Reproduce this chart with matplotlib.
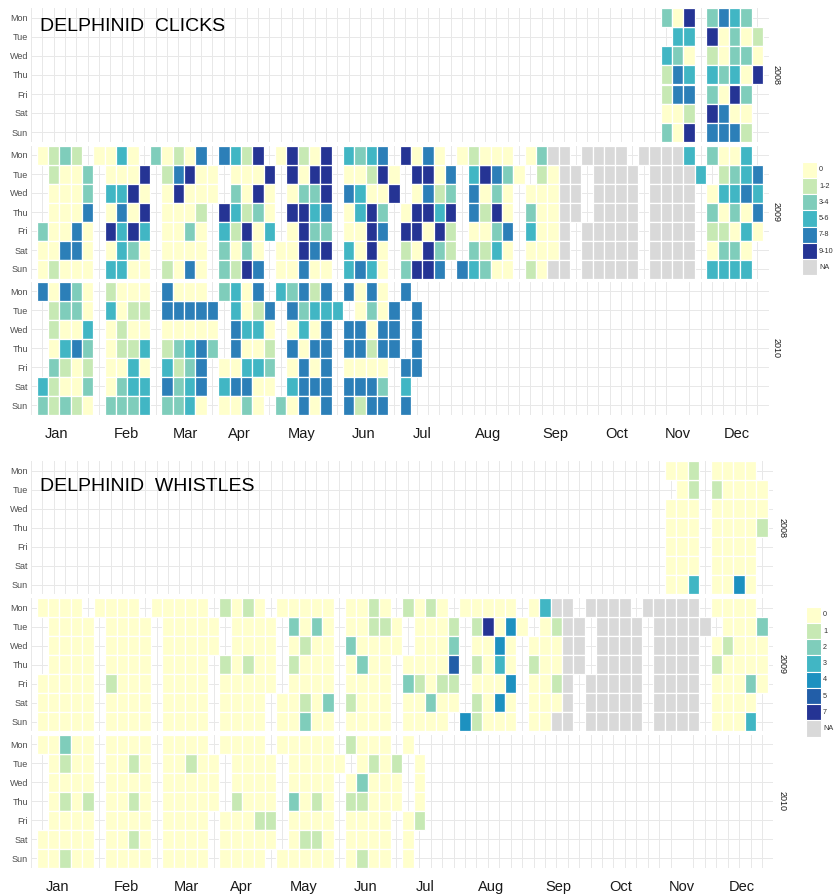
import datetime as dt
import matplotlib
matplotlib.use('Agg')
import matplotlib.pyplot as plt
from matplotlib.patches import Rectangle

plt.rcParams['font.family'] = ['Liberation Sans', 'DejaVu Sans']

# day values per month, one token per displayed row (Mon..Sun label order),
# each token lists the days of that row in date order; 'n' = NA
clicks_2008 = {
    "Nov": "205 33 320 143 144 001 205",
    "Dec": "2432 50201 10220 32305 2052 5400 4441",
}
clicks_2009 = {
    "Jan": "0121 1002 0002 0004 20040 00440 01000",
    "Feb": "0030 0005 3350 0405 5353 0320 3300",
    "Mar": "20104 14500 05000 0001 0020 0000 1040",
    "Apr": "4315 0005 2050 53120 31503 2020 2154",
    "May": "05105 5055 0225 5534 0522 00545 00400",
    "Jun": "3234 00150 43005 0352 0054 3050 3430",
    "Jul": "5040 5504 0412 05535 55051 10521 2554",
    "Aug": "01000 35420 4020 4150 0024 2130 43200",
    "Sep": "02nn 10nn 000nn 200nn 300n 000n 10nn",
    "Oct": "nnnn nnnn nnnn nnnn nnnnn nnnnn nnnnn",
    "Nov": "nnnn3 nnnn3 nnnn nnnn nnnn nnnn nnnn",
    "Dec": "2003 1234 03343 20204 11030 0220 3333",
}
clicks_2010 = {
    "Jan": "40420 1220 1003 0342 2101 31002 21210",
    "Feb": "1000 3011 0100 0113 0030 0233 2223",
    "Mar": "4000 44444 00000 12342 3124 4234 2230",
    "Apr": "2304 3014 4330 4001 00332 34400 0020",
    "May": "32414 42333 0304 4044 0404 3444 20404",
    "Jun": "4040 0204 44044 44144 0000 4442 4144",
    "Jul": "4 4 4 4 44 3 4",
}

whistles_2008 = {
    "Nov": "001 01 000 000 000 000 003",
    "Dec": "0000 10000 00000 00001 0000 0000 0040",
}
whistles_2009 = {
    "Jan": "0000 0000 0000 0000 00000 00000 00000",
    "Feb": "0000 0000 0000 0000 1000 0000 0000",
    "Mar": "00000 00000 00000 0000 0000 0000 0000",
    "Apr": "1010 0000 0000 10100 00000 0000 0000",
    "May": "00000 2020 0100 1000 0000 00102 00200",
    "Jun": "0010 00110 20000 0200 0000 1000 0000",
    "Jul": "1010 0001 0002 00005 21011 00200 0000",
    "Aug": "00000 16040 0040 1030 0004 1040 41000",
    "Sep": "03nn 01nn 000nn 100nn 001n 000n 00nn",
    "Oct": "nnnn nnnn nnnn nnnn nnnnn nnnnn nnnnn",
    "Nov": "nnnnn nnnnn nnnn nnnn nnnn nnnn nnnn",
    "Dec": "0000 0002 01000 10000 00020 0000 0003",
}
whistles_2010 = {
    "Jan": "00200 0100 0000 0101 0000 00000 00100",
    "Feb": "0000 0010 0000 0010 0000 0010 0000",
    "Mar": "0000 00100 00000 00000 0000 0000 0000",
    "Apr": "0000 0000 0000 1000 00011 00000 0000",
    "May": "00000 00000 0000 2010 0000 0110 00000",
    "Jun": "1000 0101 02000 11000 0000 0000 0100",
    "Jul": "0 0 0 0 01 0 0",
}

first_day = dt.date(2008, 11, 11)
last_day = dt.date(2010, 7, 8)

clicks_labels = ["0", "1-2", "3-4", "5-6", "7-8", "9-10", "NA"]
clicks_colors = ['#ffffcc', '#c7e9b4', '#7fcdbb', '#41b6c4', '#2c7fb8', '#253494']
whistles_labels = ["0", "1", "2", "3", "4", "5", "7", "NA"]
whistles_colors = ['#ffffcc', '#c7e9b4', '#7fcdbb', '#41b6c4', '#1d91c0', '#225ea8', '#253494']
na_color = '#d9d9d9'

months = ["Jan", "Feb", "Mar", "Apr", "May", "Jun", "Jul", "Aug", "Sep", "Oct", "Nov", "Dec"]
month_label_x = [2.3, 8.4, 13.6, 18.4, 23.85, 29.3, 34.5, 40.3, 46.2, 51.6, 57.0, 62.2]
days = ["Mon", "Tue", "Wed", "Thu", "Fri", "Sat", "Sun"]

W, H = 835, 894
fig = plt.figure(figsize=(W / 100, H / 100), dpi=100)


def px_axes(left, top, right, bottom):
    return fig.add_axes([left / W, 1 - bottom / H, (right - left) / W, (bottom - top) / H])


def draw_facet(ax, year, data, colors, bottom_row):
    xs, ys, cs = [], [], []
    for mname, tokens in data.items():
        m = months.index(mname) + 1
        rows = tokens.split()
        idx = [0] * 7
        d = dt.date(year, m, 1)
        while d.month == m:
            if first_day <= d <= last_day:
                r = (d.weekday() + 1) % 7
                code = rows[r][idx[r]]
                idx[r] += 1
                xs.append(int(d.strftime('%W')) + m)
                ys.append(r)
                cs.append(na_color if code == 'n' else colors[int(code)])
            d += dt.timedelta(days=1)
    ax.bar(xs, 1.0, width=1.0, bottom=[y - 0.5 for y in ys], color=cs,
           edgecolor='white', linewidth=0.9, zorder=2)
    ax.set_xlim(0.5, 64.5)
    ax.set_ylim(6.5, -0.5)
    ax.set_yticks(range(7))
    ax.set_yticklabels(days, fontsize=6.5, color='#4d4d4d')
    ax.set_xticks(range(0, 66), minor=True)
    if bottom_row:
        ax.set_xticks(month_label_x)
        ax.set_xticklabels(months, fontsize=10.5, color='#1a1a1a')
    else:
        ax.set_xticks([])
    ax.tick_params(which='both', length=0)
    ax.tick_params(axis='x', pad=9)
    ax.tick_params(axis='y', pad=2)
    ax.grid(which='minor', axis='x', color='#e8e8e8', lw=0.7, zorder=0)
    ax.grid(which='major', axis='y', color='#e8e8e8', lw=0.7, zorder=0)
    ax.set_axisbelow(True)
    for s in ax.spines.values():
        s.set_visible(False)


def draw_panel(title, title_base, facets, colors, labels, right, strip_x, key_left, key_top):
    for (top, year, data), last in zip(facets, [False, False, True]):
        ax = px_axes(30.9, top, right, top + 133)
        draw_facet(ax, year, data, colors, last)
        fig.text(strip_x / W, 1 - (top + 66.5) / H, str(year), rotation=270,
                 ha='center', va='center', fontsize=6.5, color='#1a1a1a')
    fig.text(40 / W, 1 - title_base / H, title, fontsize=14, va='baseline')
    # legend
    allc = colors + [na_color]
    for i, (c, lab) in enumerate(zip(allc, labels)):
        y0 = key_top + i * 16.25
        fig.add_artist(Rectangle((key_left / W, 1 - (y0 + 16.25) / H), 15.5 / W, 16.25 / H,
                                 transform=fig.transFigure, fc=c, ec='white', lw=0.8))
        fig.text((key_left + 17.5) / W, 1 - (y0 + 8.1) / H, lab, fontsize=5.2,
                 va='center', ha='left', color='#333333')


draw_panel("DELPHINID  CLICKS", 31,
           [(8.5, 2008, clicks_2008), (145.5, 2009, clicks_2009), (281.8, 2010, clicks_2010)],
           clicks_colors, clicks_labels, 768.6, 776, 801.5, 161.7)
draw_panel("DELPHINID  WHISTLES", 491,
           [(461.3, 2008, whistles_2008), (598, 2009, whistles_2009), (734.7, 2010, whistles_2010)],
           whistles_colors, whistles_labels, 773.4, 782, 805.5, 606.7)

fig.savefig('out.png', dpi=100)
